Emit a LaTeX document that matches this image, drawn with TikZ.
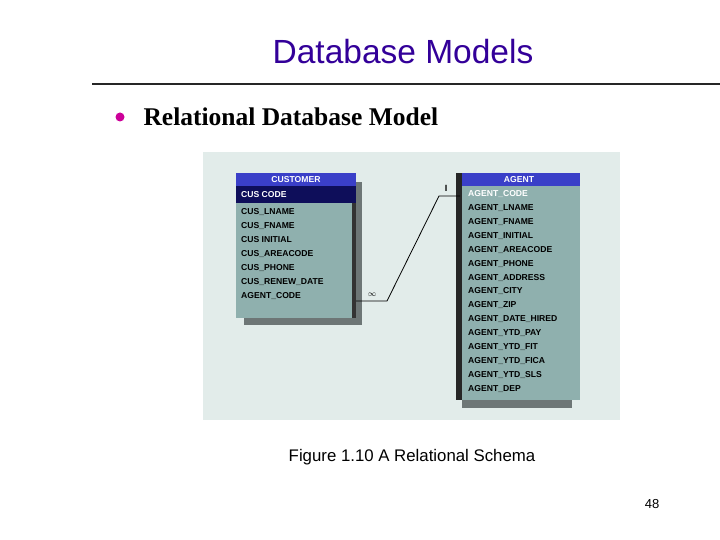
\documentclass[tikz,border=0pt]{standalone}
\usepackage{fontspec}
\setmainfont{Liberation Sans}
\newfontfamily\seriffont{Liberation Serif}
\definecolor{titlec}{HTML}{330099}
\definecolor{panel}{HTML}{E2ECEA}
\definecolor{body}{HTML}{8FB0AE}
\definecolor{head}{HTML}{3A3FC8}
\definecolor{navy}{HTML}{0E0E5A}
\definecolor{shade}{HTML}{3C4848}
\definecolor{bul}{HTML}{CC0099}
\begin{document}
\begin{tikzpicture}[x=1pt,y=-1pt,
  fld/.style={anchor=west,font=\fontsize{8.6}{9}\selectfont\bfseries,text=black,inner sep=0pt},
  hdr/.style={font=\fontsize{8.6}{9}\selectfont\bfseries,text=white,inner sep=0pt}]
\useasboundingbox (0,0) rectangle (720,540);
\node (title) at (403,52) {\fontsize{33.5}{38}\selectfont\color{titlec}Database Models};
\draw[line width=1.6pt,black!85] (92,84) -- (720,84);
\fill[bul] (120,117) circle (4.5);
\node[anchor=west] (sub) at (140,117) {\seriffont\bfseries\fontsize{25.5}{28}\selectfont Relational Database Model};
\fill[panel] (203,152) rectangle (620,420);
% customer
\fill[shade!75] (244,182) rectangle (362,325);
\fill[body] (236,173) rectangle (356,318);
\fill[black!80] (352,186) rectangle (356,318);
\fill[head] (236,173) rectangle (356,186);
\fill[navy] (236,186) rectangle (356,203);
\node[hdr] (ct) at (296,180) {CUSTOMER};
\node[fld,text=white] (c0) at (241,195) {CUS CODE};
\foreach \t [count=\i] in {CUS\_LNAME,CUS\_FNAME,CUS INITIAL,CUS\_AREACODE,CUS\_PHONE,CUS\_RENEW\_DATE,AGENT\_CODE}
  \node[fld] (c\i) at (241,198+14*\i) {\t};
% agent
\fill[shade!75] (462,182) rectangle (572,408);
\fill[body] (456,173) rectangle (580,400);
\fill[black!85] (456,173) rectangle (462,400);
\fill[head] (462,173) rectangle (580,186);
\node[hdr] (at) at (519,180) {AGENT};
\node[fld,text=white] (a0) at (468,194) {AGENT\_CODE};
\foreach \t [count=\i] in {AGENT\_LNAME,AGENT\_FNAME,AGENT\_INITIAL,AGENT\_AREACODE,AGENT\_PHONE,AGENT\_ADDRESS,AGENT\_CITY,AGENT\_ZIP,AGENT\_DATE\_HIRED,AGENT\_YTD\_PAY,AGENT\_YTD\_FIT,AGENT\_YTD\_FICA,AGENT\_YTD\_SLS,AGENT\_DEP}
  \node[fld] (a\i) at (468,194+13.93*\i) {\t};
\coordinate (p1) at (356,301);
\coordinate (p2) at (460,196);
\draw[line width=0.8pt] (p1) -- (387,301) -- (439,196) -- (p2);
\node[font=\fontsize{8}{9}\selectfont] (inf) at (372,295) {$\infty$};
\node[font=\fontsize{9}{10}\selectfont\bfseries] (one) at (446,188) {I};
\node (cap) at (412,457) {\fontsize{16.8}{20}\selectfont Figure 1.10 A Relational Schema};
\node (pg) at (652,504) {\fontsize{13}{15}\selectfont 48};
\end{tikzpicture}
\end{document}
